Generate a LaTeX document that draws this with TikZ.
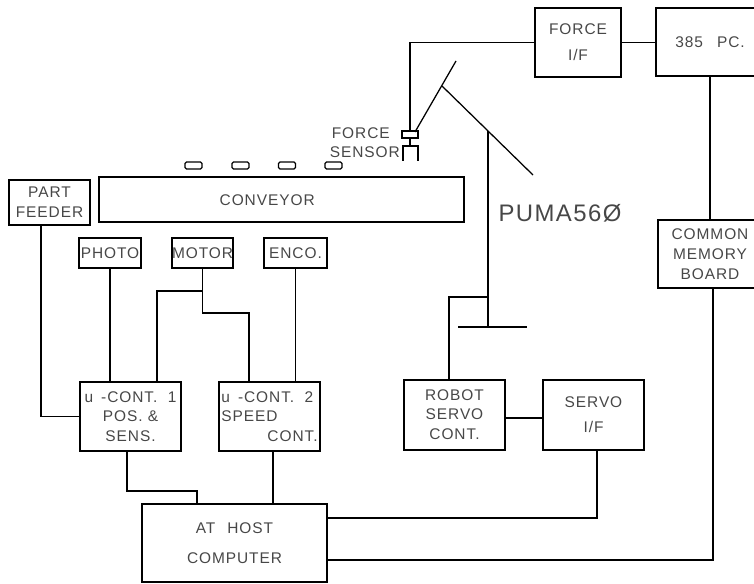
\documentclass[tikz,border=0pt]{standalone}
\usepackage{fontspec}
\setmainfont[LetterSpace=6]{Liberation Sans}
\usepackage{tikz}
\usetikzlibrary{calc}
\colorlet{PlotInk}{black!72}
\begin{document}
\begin{tikzpicture}[x=1cm,y=1cm,
      box/.style={draw=black,line width=0.9pt,inner sep=0pt,outer sep=0pt,
        align=center,text=PlotInk,font=\fontsize{11}{13}\selectfont},
      partbox/.style={draw=black,line width=0.9pt,rounded corners=1pt,inner sep=0pt,outer sep=0pt,
        minimum width=0.42cm,minimum height=0.175cm},
      txt/.style={inner sep=0pt,text=PlotInk,align=center,font=\fontsize{11}{13}\selectfont},
      wire/.style={line width=0.9pt,line join=miter}]
    \useasboundingbox (0,0) rectangle (18.85,14.575);

    % Top row : force chain.
    \node[box,minimum width=2.15cm,minimum height=1.725cm] (force) at (14.45,13.51)
      {FORCE\\[5.4pt]I/F};
    \node[box,minimum width=2.70cm,minimum height=1.70cm] (pc) at (17.75,13.525)
      {385\hspace{0.35cm}PC.};
    \node[box,minimum width=2.60cm,minimum height=1.70cm] (common) at (17.75,8.225)
      {COMMON\\[1.6pt]MEMORY\\[1pt]BOARD};
    \draw[wire] (force.east) -- (force.east -| pc.west);
    \draw[wire] (pc.south) -- (common.north);

    % Conveyor and the parts riding on it.
    \node[box,minimum width=2.025cm,minimum height=1.125cm] (feeder) at (1.2375,9.5125)
      {PART\\[1pt]FEEDER};
    \node[box,minimum width=9.125cm,minimum height=1.125cm] (conveyor) at (7.0375,9.5875) {};
    \node[txt] (conveyortxt) at (6.68,9.56) {CONVEYOR};
    \foreach \i/\xpart in {1/4.8375,2/6.0125,3/7.175,4/8.3375}
      \node[partbox] (part\i) at (\xpart,10.4375) {};

    % Conveyor devices.
    \node[box,minimum width=1.55cm,minimum height=0.75cm] (photo) at (2.75,8.25) {PHOTO};
    \node[box,minimum width=1.525cm,minimum height=0.75cm] (motor) at (5.0625,8.25) {MOTOR};
    \node[box,minimum width=1.575cm,minimum height=0.75cm] (enco) at (7.3875,8.25) {ENCO.};

    % Controllers.
    \node[box,minimum width=2.525cm,minimum height=1.725cm] (cont1) at (3.2625,4.1625)
      {u\hspace{0.2cm}-CONT.\hspace{0.26cm}1\\[1pt]POS. \&\\[1pt]SENS.};
    \node[box,minimum width=2.525cm,minimum height=1.725cm,align=left] (cont2) at (6.7375,4.1625)
      {u\hspace{0.2cm}-CONT.\hspace{0.26cm}2\\[1pt]SPEED\\[1pt]\hspace*{1.15cm}CONT.};
    \node[box,minimum width=4.625cm,minimum height=1.95cm] (host) at (5.8625,1.0)
      {AT\hspace{0.3cm}HOST\\[8pt]COMPUTER};
    \node[box,minimum width=2.525cm,minimum height=1.75cm] (robot) at (11.3625,4.2)
      {ROBOT\\[0.5pt]SERVO\\[1pt]CONT.};
    \node[box,minimum width=2.525cm,minimum height=1.75cm] (servo) at (14.8375,4.2)
      {SERVO\\[5pt]I/F};

    % Free ends of the wires.
    \coordinate (feedout) at (1.025,8.95);
    \coordinate (motorA) at (5.0625,7.30);
    \coordinate (motorB) at (5.0625,6.75);
    \coordinate (cont1in) at (3.925,5.025);
    \coordinate (cont2in) at (6.225,5.025);
    \coordinate (cont1out) at (3.175,3.30);
    \coordinate (cont2out) at (6.825,3.30);
    \coordinate (jog) at (4.925,2.30);
    \coordinate (hostin) at (4.925,1.975);
    \coordinate (hostA) at (8.175,1.625);
    \coordinate (hostB) at (8.175,0.575);
    \coordinate (servoout) at (14.925,3.325);
    \coordinate (commonin) at (17.825,7.375);

    \draw[wire] (feedout) |- (cont1.west);
    \draw[wire] (photo.south) -- (photo.south |- cont1.north);
    \draw[wire] (enco.south) -- (enco.south |- cont2.north);
    \draw[wire] (motor.south) -- (motorA) -| (cont1in);
    \draw[wire] (motor.south) -- (motorB) -| (cont2in);
    \draw[wire] (cont1out) |- (jog) -- (hostin);
    \draw[wire] (cont2out) -- (cont2out |- host.north);
    \draw[wire] ([yshift=-0.075cm]robot.east) -- ([yshift=-0.075cm]servo.west);
    \draw[wire] (servoout) |- (hostA);
    \draw[wire] (hostB) -| (commonin);

    % Robot arm with its sensor.
    \node[draw=black,line width=0.9pt,inner sep=0pt,outer sep=0pt,
      minimum width=0.40cm,minimum height=0.175cm] (sensor) at (10.25,11.2125) {};
    \node[txt,align=left] (sensortxt) at (9.12,11.0) {\hspace*{0.05cm}FORCE\\[0.5pt]SENSOR};
    \node[txt,font=\fontsize{17}{20}\selectfont] (puma) at (14.0,9.25) {PUMA56Ø};
    \coordinate (griptop) at (10.25,10.925);
    \coordinate (gripL) at (10.075,10.55);
    \coordinate (gripR) at (10.45,10.55);
    \coordinate (wrist) at (10.375,11.275);
    \coordinate (armtip) at (11.40,13.05);
    \coordinate (elbow) at (11.05,12.425);
    \coordinate (armend) at (13.325,10.20);
    \coordinate (shoulder) at (12.20,11.30);
    \coordinate (pedestal) at (12.20,6.40);
    \coordinate (barL) at (11.45,6.40);
    \coordinate (barR) at (13.175,6.40);
    \coordinate (tap) at (12.20,7.15);
    \coordinate (robotin) at (11.225,5.075);

    \draw[wire] (force.west) -| (sensor.north);
    \draw[wire] (sensor.south) -- (griptop);
    \draw[wire] (gripL) |- (griptop) -| (gripR);
    \draw[wire] (wrist) -- (armtip);
    \draw[wire] (elbow) -- (armend);
    \draw[wire] (shoulder) -- (pedestal);
    \draw[wire] (barL) -- (barR);
    \draw[wire] (tap) -| (robotin);
  \end{tikzpicture}
\end{document}
